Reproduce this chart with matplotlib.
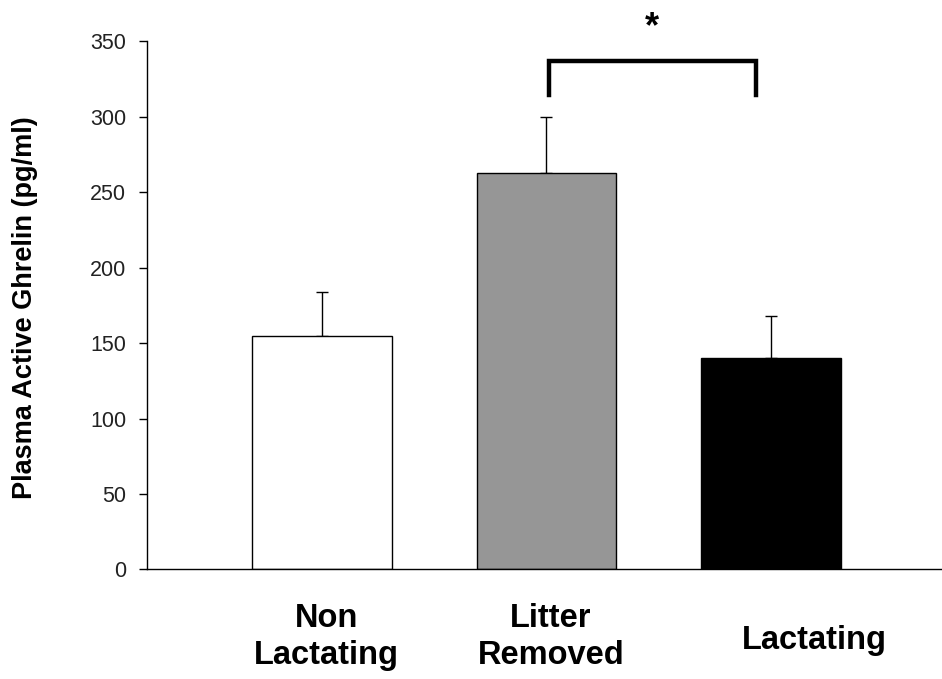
import matplotlib.pyplot as plt
import numpy as np

groups = ["Non\nLactating", "Litter\nRemoved", "Lactating"]
ghrelin = [155, 263, 140]
sem = [29, 37, 28]
bar_colors = ["white", "#969696", "black"]
yticks = [0, 50, 100, 150, 200, 250, 300, 350]

plt.rcParams['font.family'] = ['Liberation Sans', 'DejaVu Sans']

fig = plt.figure(figsize=(9.42, 6.79), dpi=100)
ax = fig.add_axes([0.156, 0.1614, 0.844, 0.7775])

x = np.arange(len(groups))
ax.bar(x, ghrelin, width=0.622, color=bar_colors, edgecolor="black", linewidth=1.0, zorder=2)
ax.errorbar(x, ghrelin, yerr=[np.zeros(len(sem)), sem], fmt="none", ecolor="black",
            elinewidth=1.0, capsize=4, capthick=1.0, zorder=1)

ax.set_xlim(-0.778, 2.76)
ax.set_ylim(0, 350)
ax.set_yticks(yticks)
ax.tick_params(axis="y", labelsize=15.5, length=6, width=1, colors="black", labelcolor="#222222", pad=9)
ax.set_xticks([])
for s in ["top", "right"]:
    ax.spines[s].set_visible(False)
ax.spines["left"].set_linewidth(1)
ax.spines["bottom"].set_linewidth(1)

fig.text(25 / 942, 0.547, "Plasma Active Ghrelin (pg/ml)", rotation=90, ha="center", va="center",
         fontsize=19.5, fontweight="bold")

# group labels below the axis
label_x = [0.02, 1.02, 2.19]
label_y = [-45, -45, -47]
for lx, ly, g in zip(label_x, label_y, groups):
    ax.text(lx, ly, g, ha="center", va="center", fontsize=23.5, fontweight="bold",
            linespacing=1.25, clip_on=False)

# significance bracket
ax.plot([1.013, 1.013, 1.933, 1.933], [314.6, 337, 337, 314.6], color="black",
        linewidth=3.2, solid_joinstyle="miter", clip_on=False)
ax.text(1.47, 359, "*", ha="center", va="center", fontsize=26, fontweight="bold", clip_on=False)

fig.savefig("out.png", dpi=100)
